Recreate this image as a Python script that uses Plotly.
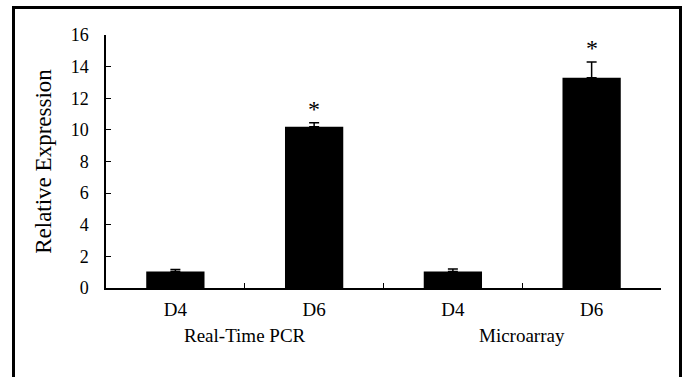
import plotly.graph_objects as go

groups = ["Real-Time PCR", "Real-Time PCR", "Microarray", "Microarray"]
days = ["D4", "D6", "D4", "D6"]
keys = ["RT-D4", "RT-D6", "MA-D4", "MA-D6"]
values = [1.05, 10.2, 1.05, 13.3]
errors = [0.12, 0.25, 0.15, 1.0]
signif = ["", "*", "", "*"]
y_ticks = [0, 2, 4, 6, 8, 10, 12, 14, 16]

W, H = 686, 377
# plot area in page pixels: x 106..661, y 35..288
L, T = 106, 35
R = W - 661
B = H - 288
pw, ph = W - L - R, H - T - B

def px(x):
    return (x - L) / pw

def py(y):
    return (H - B - y) / ph

serif = "Liberation Serif, Times New Roman, serif"

fig = go.Figure()
fig.add_trace(go.Bar(
    x=keys, y=values, width=0.42,
    marker=dict(color="black", line=dict(width=0)),
    error_y=dict(type="data", array=errors, arrayminus=[0] * len(errors),
                 symmetric=False, color="black", thickness=1.5, width=5),
))

for k, v, e, s in zip(keys, values, errors, signif):
    if s:
        fig.add_annotation(x=k, y=v + e, text=s, showarrow=False, yanchor="bottom",
                           yshift=-1, font=dict(family=serif, size=24, color="black"))

# group labels
seen = []
for i, g in enumerate(groups):
    if g in seen:
        continue
    seen.append(g)
    idx = [j for j, gg in enumerate(groups) if gg == g]
    center = (idx[0] + idx[-1]) / 2
    fig.add_annotation(x=center, xref="x", y=py(335), yref="paper", text=g,
                       showarrow=False, yanchor="middle",
                       font=dict(family=serif, size=19, color="black"))

fig.add_shape(type="rect", xref="paper", yref="paper",
              x0=px(13.5), x1=px(680.5), y0=py(420), y1=py(7.5),
              line=dict(color="black", width=3), fillcolor="rgba(0,0,0,0)")

fig.update_layout(
    width=W, height=H,
    margin=dict(l=L, r=R, t=T, b=B, autoexpand=False),
    paper_bgcolor="white", plot_bgcolor="white",
    showlegend=False,
    font=dict(family=serif, color="black"),
)
fig.update_xaxes(
    type="category", tickvals=keys, ticktext=days, tickson="boundaries",
    ticks="inside", ticklen=5, tickwidth=1.3, tickcolor="black",
    showline=True, linecolor="black", linewidth=1.5, showgrid=False,
    tickfont=dict(family=serif, size=19, color="black"),
    range=[-0.5, 3.5], ticklabelstandoff=3,
)
fig.update_yaxes(
    range=[0, 16], tickvals=y_ticks,
    ticks="inside", ticklen=5, tickwidth=1.3, tickcolor="black",
    showline=True, linecolor="black", linewidth=1.5, showgrid=False, zeroline=False,
    tickfont=dict(family=serif, size=18, color="black"),
    ticklabelstandoff=12,
    title=dict(text="Relative Expression", font=dict(family=serif, size=23, color="black"), standoff=13),
)

fig.write_html("out.html", config={"displayModeBar": False},
               post_script="document.body.style.margin='0';")
